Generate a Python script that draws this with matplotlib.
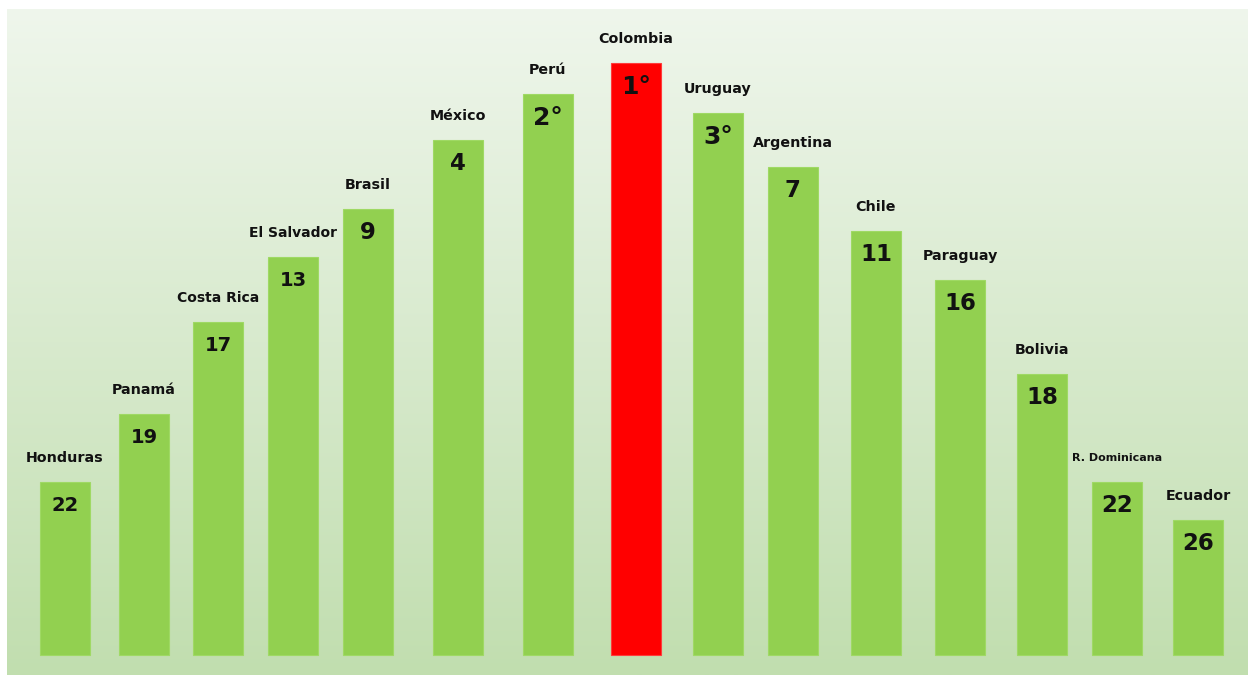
import matplotlib.pyplot as plt
import numpy as np

# countries left to right, bar heights and rank labels
countries = ['Honduras', 'Panamá', 'Costa Rica', 'El Salvador', 'Brasil', 'México', 'Perú',
             'Colombia', 'Uruguay', 'Argentina', 'Chile', 'Paraguay', 'Bolivia',
             'R. Dominicana', 'Ecuador']
heights = [173, 241, 333, 398, 446, 515, 561, 592, 542, 488, 424, 375, 281, 173, 135]
ranks = ['22', '19', '17', '13', '9', '4', '2°', '1°', '3°', '7', '11', '16', '18', '22', '26']

# layout (pixel-like units), not data
xpos = [65, 144, 218, 293, 368, 458, 548, 636, 718, 793, 876, 960, 1042, 1117, 1198]
rank_size = [14, 14, 14, 14, 16.5, 16.5, 18, 18, 18, 16.5, 16.5, 16.5, 16.5, 16.5, 16.5]
name_size = [10.3, 10.3, 10, 10, 10.3, 10.3, 10.3, 10.3, 10.3, 10.3, 10.3, 10.3, 10.3, 8, 10.3]

font = ['Liberation Sans Narrow', 'DejaVu Sans Condensed', 'DejaVu Sans']

fig = plt.figure(figsize=(12.48, 6.75), dpi=100)
fig.patch.set_facecolor('white')

# gradient background panel
bg = fig.add_axes([7 / 1248, 0, 1241 / 1248, 666 / 675])
top = np.array([0xef, 0xf6, 0xec]) / 255
bot = np.array([0xc1, 0xde, 0xaf]) / 255
t = np.linspace(0, 1, 256)[:, None]
grad = top[None, :] * (1 - t) + bot[None, :] * t
bg.imshow(grad[:, None, :], aspect='auto', extent=[0, 1, 0, 1])
bg.set_axis_off()

ax = fig.add_axes([0, 0, 1, 1])
ax.set_xlim(0, 1248)
ax.set_ylim(-20, 655)
ax.set_axis_off()
ax.patch.set_alpha(0)

colors = ['#ff0000' if c == 'Colombia' else '#92d050' for c in countries]
edges = ['#ff3b3b' if c == 'Colombia' else '#9fd964' for c in countries]
ax.bar(xpos, heights, width=50, color=colors, edgecolor=edges, linewidth=0.8)

for x, h, c, r, rs, ns in zip(xpos, heights, countries, ranks, rank_size, name_size):
    ax.annotate(c, (x, h), xytext=(0, 17), textcoords='offset points',
                ha='center', va='center', fontsize=ns, fontweight='bold',
                family=font, color='#111111')
    ax.annotate(r, (x, h), xytext=(0, -17), textcoords='offset points',
                ha='center', va='center', fontsize=rs, fontweight='bold',
                family=font, color='#111111')

fig.savefig('out.png', dpi=100)
